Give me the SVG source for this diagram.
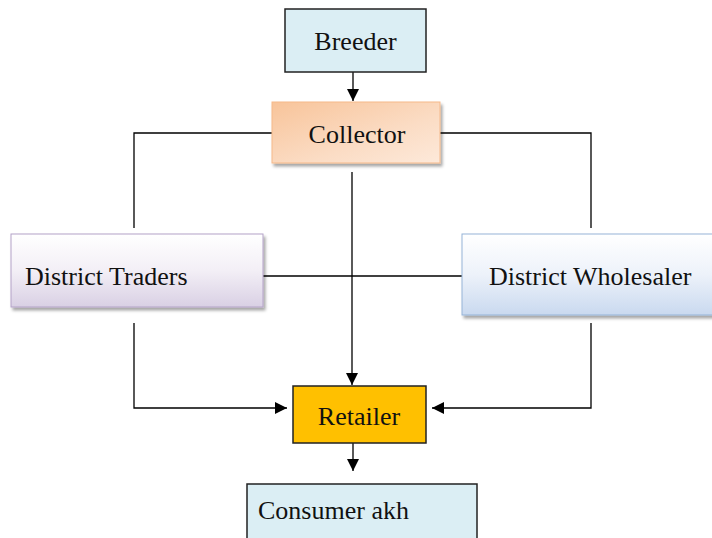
<svg xmlns="http://www.w3.org/2000/svg" width="712" height="538" viewBox="0 0 712 538">
<defs>
<linearGradient id="gOrange" x1="0" y1="0" x2="1" y2="1">
<stop offset="0" stop-color="#f8c49a"/>
<stop offset="0.6" stop-color="#fbdcc4"/>
<stop offset="1" stop-color="#fde9da"/>
</linearGradient>
<linearGradient id="gPurple" x1="0" y1="0" x2="0" y2="1">
<stop offset="0" stop-color="#ffffff"/>
<stop offset="0.5" stop-color="#f3eff6"/>
<stop offset="1" stop-color="#d9d0e4"/>
</linearGradient>
<linearGradient id="gBlue" x1="0" y1="0" x2="0" y2="1">
<stop offset="0" stop-color="#ffffff"/>
<stop offset="0.5" stop-color="#edf2fa"/>
<stop offset="1" stop-color="#c9d9ef"/>
</linearGradient>
<filter id="sh" x="-5%" y="-5%" width="115%" height="125%">
<feDropShadow dx="2" dy="3" stdDeviation="1.5" flood-color="#000" flood-opacity="0.35"/>
</filter>
<marker id="arr" viewBox="0 0 10 10" refX="10" refY="5" markerWidth="12" markerHeight="12" markerUnits="userSpaceOnUse" orient="auto">
<path d="M0,0 L10,5 L0,10 z" fill="#000"/>
</marker>
</defs>
<style>
text { font-family: "Liberation Serif", "Times New Roman", serif; font-size: 26px; fill: #111; }
.ln { fill: none; stroke: #000; stroke-width: 1.3; }
.bx { stroke: #222; stroke-width: 1.5; }
</style>
<rect width="712" height="538" fill="#ffffff"/>
<g id="connectors">
<path class="ln" d="M353,72 L353,101" marker-end="url(#arr)"/>
<path class="ln" d="M272,133 L134,133 L134,228"/>
<path class="ln" d="M440,133 L591,133 L591,228"/>
<path class="ln" d="M263,276 L462,276"/>
<path class="ln" d="M352,172 L352,385" marker-end="url(#arr)"/>
<path class="ln" d="M134,323 L134,408 L287,408" marker-end="url(#arr)"/>
<path class="ln" d="M591,323 L591,408 L432,408" marker-end="url(#arr)"/>
<path class="ln" d="M353,443 L353,471" marker-end="url(#arr)"/>
</g>
<g id="breeder">
<rect class="bx" x="285" y="9" width="141" height="63" fill="#dbeef4"/>
<text x="355.5" y="50" text-anchor="middle">Breeder</text>
</g>
<g id="collector">
<rect x="272" y="102" width="168" height="61" fill="url(#gOrange)" stroke="#f5b98a" stroke-width="1" filter="url(#sh)"/>
<text x="357" y="143" text-anchor="middle">Collector</text>
</g>
<g id="district-traders">
<rect x="11" y="234" width="252" height="73" fill="url(#gPurple)" stroke="#b3a2c7" stroke-width="1" filter="url(#sh)"/>
<text x="25" y="285">District Traders</text>
</g>
<g id="district-wholesaler">
<rect x="462" y="234" width="260" height="81" fill="url(#gBlue)" stroke="#95b3d7" stroke-width="1" filter="url(#sh)"/>
<text x="489" y="285">District Wholesaler</text>
</g>
<g id="retailer">
<rect class="bx" x="293" y="386" width="133" height="57" fill="#ffc000"/>
<text x="359" y="425" text-anchor="middle">Retailer</text>
</g>
<g id="consumer">
<rect class="bx" x="247" y="484" width="230" height="70" fill="#dbeef4"/>
<text x="258" y="519">Consumer akh</text>
</g>
</svg>
